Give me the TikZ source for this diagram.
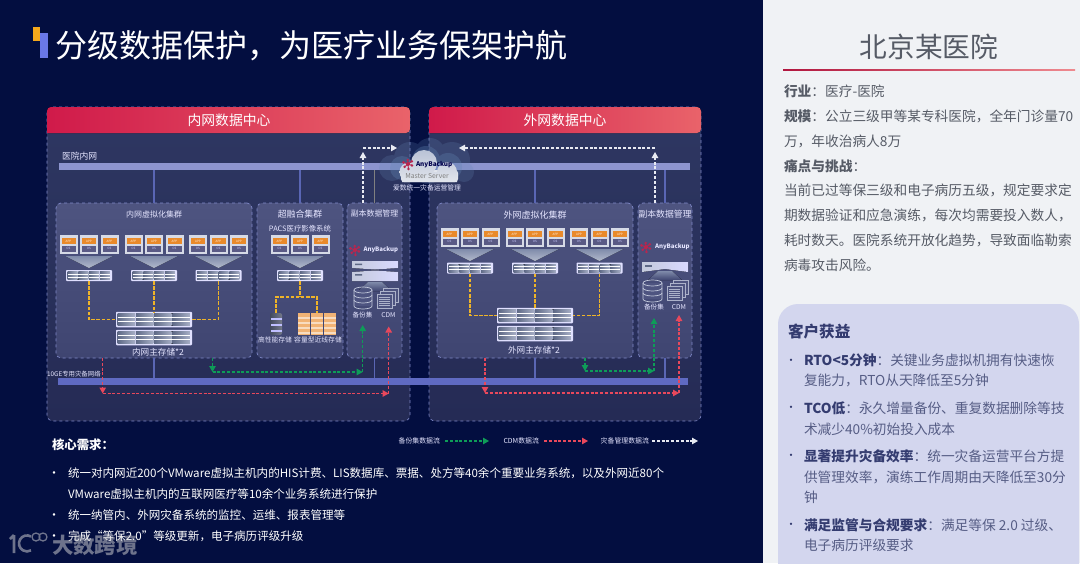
\documentclass[tikz,border=0pt]{standalone}
\usepackage{fontspec}
\setmainfont{Noto Sans CJK SC}
\usetikzlibrary{positioning, arrows.meta}

\definecolor{pagebg}{HTML}{030E40}
\definecolor{panelbg}{HTML}{F0F2F5}
\definecolor{dcline}{HTML}{7F88C8}
\definecolor{dctop}{HTML}{2E3762}
\definecolor{dcbottom}{HTML}{252B55}
\definecolor{cltop}{HTML}{4E5480}
\definecolor{clbottom}{HTML}{3F4571}
\definecolor{dcleft}{HTML}{D01A4A}
\definecolor{dcmid}{HTML}{DC3355}
\definecolor{dcright}{HTML}{E9636A}
\definecolor{lanblue}{HTML}{8D95CF}
\definecolor{bakblue}{HTML}{5F6AC2}
\definecolor{linkblue}{HTML}{5A66B4}
\definecolor{markyellow}{HTML}{F5A81C}
\definecolor{markblue}{HTML}{6A78E8}
\definecolor{sanyellow}{HTML}{EFB428}
\definecolor{flowgreen}{HTML}{0E9C58}
\definecolor{flowred}{HTML}{E8485C}
\definecolor{flowwhite}{HTML}{E8EAF2}
\definecolor{appblock}{HTML}{E98A2B}
\definecolor{osblock}{HTML}{5A5A85}
\definecolor{tileframe}{HTML}{D6DAE6}
\definecolor{funnelgrey}{HTML}{7F8BAA}
\definecolor{srvdark}{HTML}{5E6986}
\definecolor{srvlight}{HTML}{A7AFC6}
\definecolor{iconline}{HTML}{C4CADC}
\definecolor{iconfill}{HTML}{4E5480}
\definecolor{abred}{HTML}{B8264F}
\definecolor{cloudhalo}{HTML}{6486B4}
\definecolor{cloudtop}{HTML}{B9C3D6}
\definecolor{cloudbase}{HTML}{E2E5EC}
\definecolor{gaincard}{HTML}{D3D6EE}
\definecolor{gainhead}{HTML}{343C70}
\definecolor{gaintext}{HTML}{565D85}
\definecolor{bodytext}{HTML}{565B66}

\newcommand{\fs}[1]{\fontsize{#1}{#1}\selectfont}

% three guest tiles with their funnel below
\newcommand{\vmgroup}[3]{%
  \fill[top color=funnelgrey, bottom color=funnelgrey!60!white] ({#2-24},{#3+21}) -- ({#2+24},{#3+21}) -- (#2,{#3+33}) -- cycle;
  \foreach \i/\d in {1/-20.5, 2/0, 3/20.5} {
    \node[tilebox] (tile#1\i) at ({#2+\d},{#3+9.5}) {};
    \node[appbox] (app#1\i) at ([yshift=3.4pt]tile#1\i.center) {APP};
    \node[osbox] (os#1\i) at ([yshift=-4pt]tile#1\i.center) {OS};
  }
}
% server shelf: name, centre x, centre y, width, height
\newcommand{\srvrow}[5]{%
  \node[srvbox, minimum width=#4pt, minimum height=#5pt] (#1) at (#2,#3) {};
  \foreach \c in {0,1,2,3} {
    \fill[left color=srvdark, right color=srvlight] ({#2-#4/2+1.5+\c*(#4-3)/4},{#3-#5/2+1.5}) rectangle ({#2-#4/2+1.5+(\c+1)*(#4-3)/4-0.6},{#3+#5/2-1.5});
    \foreach \r in {1,2} \draw[white, line width=0.4pt] ({#2-#4/2+1.5+\c*(#4-3)/4},{#3-#5/2+1.5+\r*(#5-3)/3}) -- ({#2-#4/2+1.5+(\c+1)*(#4-3)/4-0.6},{#3-#5/2+1.5+\r*(#5-3)/3});
  }
}
% logo mark
\newcommand{\abmark}[2]{%
  \foreach \a/\r in {20/4.2, 85/5, 140/4.4, 200/4.8, 265/4, 325/4.6} {
    \draw[abred, line width=0.9pt] (#1,#2) -- ++(\a:\r);
    \fill[abred] (#1,#2) ++(\a:\r) circle (1.4);
  }
  \fill[abred] (#1,#2) circle (2);
}
\newcommand{\dbstack}[3]{%
  \fill[iconfill] (#1,{#2+3}) rectangle ({#1+#3},{#2+19});
  \draw[iconline, line width=0.7pt] ({#1+#3/2},{#2+3}) ellipse [x radius=#3/2, y radius=3];
  \draw[iconline, line width=0.7pt] (#1,{#2+3}) -- (#1,{#2+19}) arc [start angle=180, end angle=0, x radius=#3/2, y radius=3] -- ({#1+#3},{#2+3});
  \foreach \o in {8,13} \draw[iconline, line width=0.7pt] (#1,{#2+\o}) arc [start angle=180, end angle=0, x radius=#3/2, y radius=3];
}
\newcommand{\docstack}[2]{%
  \foreach \o in {6,3,0} {
    \fill[iconfill] ({#1+\o},{#2+6-\o}) rectangle ({#1+\o+15},{#2+20-\o});
    \draw[iconline!80!iconfill, line width=0.4pt] ({#1+\o},{#2+6-\o}) rectangle ({#1+\o+15},{#2+20-\o});
  }
  \foreach \o in {9,11,13,15,17} \draw[iconline!80!iconfill, line width=0.4pt] ({#1+2},{#2+\o}) -- ({#1+13},{#2+\o});
}

\begin{document}
\begin{tikzpicture}[
    x=1pt, y=-1pt,
    every node/.style={inner sep=0pt, outer sep=0pt},
    dcbox/.style={rectangle, draw=dcline, dashed, line width=0.6pt, rounded corners=6pt, anchor=north west, top color=dctop, bottom color=dcbottom},
    clusterbox/.style={rectangle, draw=dcline, dashed, line width=0.7pt, rounded corners=5pt, anchor=north west, top color=cltop, bottom color=clbottom},
    dchead/.style={left color=dcleft, middle color=dcmid, right color=dcright},
    barnode/.style={rectangle, anchor=north west, minimum height=7pt},
    tilebox/.style={rectangle, fill=tileframe, minimum width=18pt, minimum height=19pt},
    appbox/.style={rectangle, fill=appblock, minimum width=14pt, minimum height=6pt, font=\fs{3}, text=white!85!orange},
    osbox/.style={rectangle, fill=osblock, minimum width=14pt, minimum height=6pt, font=\fs{3}, text=white!80!blue},
    srvbox/.style={rectangle, fill=white!88!blue, rounded corners=0.8pt},
    netlink/.style={draw=linkblue, line width=1.1pt},
    sanlink/.style={draw=sanyellow, line width=1.5pt, dash pattern=on 3.6pt off 1.5pt},
    flowgreenline/.style={draw=flowgreen, line width=1.15pt, dash pattern=on 3pt off 1.8pt},
    flowredline/.style={draw=flowred, line width=1.15pt, dash pattern=on 3pt off 1.8pt},
    flowwhiteline/.style={draw=flowwhite, line width=1.15pt, dash pattern=on 3pt off 1.8pt},
    tip/.style={-{Stealth[length=6pt, width=6.5pt, inset=0pt]}},
    lab/.style={text=white!90!blue},
    panel/.style={anchor=base west, text=bodytext},
    gain/.style={anchor=base west, text=gaintext, font=\fs{13.7}},
    bigtext/.style={anchor=west, text=white, font=\fs{11.55}}
]
    \useasboundingbox (0,0) rectangle (1080,563);
    \fill[pagebg] (0,0) rectangle (763,563);
    \fill[panelbg] (763,0) rectangle (1080,563);

    % heading
    \fill[markblue] (40,33) rectangle (48,58);
    \fill[markyellow] (33,27) rectangle (40,41);
    \node[anchor=west, text=white, font=\fs{32}] (pagetitle) at (56,46) {分级数据保护，为医疗业务保架护航};

    % data centres
    \node[dcbox, minimum width=363pt, minimum height=314pt] (dcint) at (47,107) {};
    \node[dcbox, minimum width=272pt, minimum height=314pt] (dcext) at (429,107) {};
    \fill[dchead, rounded corners=4pt] (47,133) -- (47,107) -- (410,107) -- (410,133) [sharp corners] -- cycle;
    \fill[dchead, rounded corners=4pt] (429,133) -- (429,107) -- (701,107) -- (701,133) [sharp corners] -- cycle;
    \node[text=white, font=\fs{13.8}] (dcintlabel) at (229,120.5) {内网数据中心};
    \node[text=white, font=\fs{13.8}] (dcextlabel) at (565,120.5) {外网数据中心};

    % networks
    \node[barnode, fill=lanblue, minimum width=631pt] (lanbar) at (59,163) {};
    \node[barnode, fill=bakblue, minimum width=630pt] (bakbar) at (58,377.5) {};
    \node[lab, anchor=west, font=\fs{8.8}] (lanlabel) at (62,156) {医院内网};
    \node[lab, anchor=west, font=\fs{6.4}] (baklabel) at (47,374) {10GE专用灾备网络};

    % clusters
    \node[clusterbox, minimum width=196pt, minimum height=155pt] (vmint) at (56,203) {};
    \node[clusterbox, minimum width=86pt, minimum height=155pt] (hci) at (257,203) {};
    \node[clusterbox, minimum width=55pt, minimum height=155pt] (repint) at (347,203) {};
    \node[clusterbox, minimum width=196pt, minimum height=155pt] (vmext) at (437,203) {};
    \node[clusterbox, minimum width=54pt, minimum height=155pt] (repext) at (638,203) {};

    \node[lab, font=\fs{8}] (vmintlabel) at (154,214) {内网虚拟化集群};
    \node[lab, font=\fs{8.9}] (hcilabel) at (300,214) {超融合集群};
    \node[lab, font=\fs{7.4}] (pacslabel) at (300,229) {PACS医疗影像系统};
    \node[lab, font=\fs{7.9}] (repintlabel) at (374.5,213) {副本数据管理};
    \node[lab, font=\fs{9}] (vmextlabel) at (535,215) {外网虚拟化集群};
    \node[lab, font=\fs{8.8}] (repextlabel) at (665,214) {副本数据管理};

    \draw[netlink] (lanbar.south -| vmint.north) -- (vmint.north);
    \draw[netlink] (lanbar.south -| hci.north) -- (hci.north);
    \draw[netlink, draw=gray] (lanbar.south -| repint.north) -- (repint.north);
    \draw[netlink] (lanbar.south -| vmext.north) -- (vmext.north);
    \draw[netlink] (lanbar.south -| repext.north) -- (repext.north);
    \draw[netlink] (vmint.south) -- (bakbar.north -| vmint.south);
    \draw[netlink] (repint.south) -- (bakbar.north -| repint.south);
    \draw[netlink] (vmext.south) -- (bakbar.north -| vmext.south);
    \draw[netlink] (repext.south) -- (bakbar.north -| repext.south);

    % guests and shelves
    \vmgroup{a}{89}{235}
    \vmgroup{b}{154}{235}
    \vmgroup{c}{218.5}{235}
    \vmgroup{d}{300}{235}
    \vmgroup{e}{470}{228}
    \vmgroup{f}{535}{228}
    \vmgroup{g}{599.5}{228}

    \srvrow{srva}{89}{275.5}{46}{11}
    \srvrow{srvb}{154}{275.5}{46}{11}
    \srvrow{srvc}{218.5}{275.5}{46}{11}
    \srvrow{srvd}{300}{275.5}{46}{11}
    \srvrow{srve}{470}{268}{46}{11}
    \srvrow{srvf}{535}{268}{46}{11}
    \srvrow{srvg}{599.5}{268}{46}{11}

    \srvrow{storinta}{154}{319.5}{76}{15.5}
    \srvrow{storintb}{154}{337.5}{76}{15.5}
    \srvrow{storexta}{535}{315.5}{76}{15.5}
    \srvrow{storextb}{535}{333.5}{76}{15.5}
    \node[lab, font=\fs{8.6}] (storintlabel) at (158,352) {内网主存储*2};
    \node[lab, font=\fs{8.6}] (storextlabel) at (534,350) {外网主存储*2};

    \draw[sanlink] (srva.south) |- (storinta.west);
    \draw[sanlink] (srvb.south) -- (storinta.north);
    \draw[sanlink] (srvc.south) |- (storinta.east);
    \draw[sanlink] (srve.south) |- (storexta.west);
    \draw[sanlink] (srvf.south) -- (storexta.north);
    \draw[sanlink] (srvg.south) |- (storexta.east);

    % hyper-converged storage
    \coordinate (hcisplit) at (300,297);
    \node[rectangle, rounded corners=2pt, left color=srvdark!70!black, right color=srvlight!70!black, minimum width=12pt, minimum height=22pt] (hpdrum) at (276,324) {};
    \foreach \y in {318,324,330} \fill[white!75!blue] (270.5,\y) rectangle (281.5,{\y+1.5});
    \node[rectangle, fill=appblock!65!white, minimum width=38pt, minimum height=22pt] (capbins) at (317,324) {};
    \foreach \y in {317,322,327,332} \fill[appblock!30!white] (298,\y) rectangle (336,{\y+1.5});
    \foreach \x in {310.5,323.5} \draw[clbottom, line width=0.8pt] (\x,313) -- (\x,335);
    \draw[sanlink] (srvd.south) -- (hcisplit);
    \draw[sanlink] (hpdrum.north) |- (hcisplit) -| (capbins.north);
    \node[lab, font=\fs{6.8}] (hplabel) at (275,340) {高性能存储};
    \node[lab, font=\fs{6.8}] (caplabel) at (318,340) {容量型近线存储};

    % replica panels
    \abmark{355}{250}
    \node[lab, anchor=west, font=\fs{6.1}\bfseries] (abint) at (363.5,250) {AnyBackup};
    \abmark{646}{247}
    \node[lab, anchor=west, font=\fs{6.1}\bfseries] (abext) at (655,247) {AnyBackup};

    \fill[left color=iconline, right color=white!85!blue] (352,261) -- (398,261) -- (398,268) -- (375,269.5) -- (352,268) -- cycle;
    \fill[left color=iconline, right color=white!85!blue] (352,272) -- (375,270.5) -- (398,272) -- (398,281) -- (352,281) -- cycle;
    \fill[srvdark] (355,263.5) rectangle (362,265) (355,274) rectangle (362,275.5);
    \fill[top color=funnelgrey, bottom color=clbottom] (368,282) -- (382,282) -- (392,291) -- (358,291) -- cycle;
    \dbstack{354}{287}{18}
    \docstack{377}{288}
    \node[lab, font=\fs{6.6}] (bakintlabel) at (362.5,315) {备份集};
    \node[lab, font=\fs{6.6}] (cdmintlabel) at (388.5,315) {CDM};

    \fill[left color=iconline, right color=white!85!blue] (642,262) -- (688,262) -- (688,272) -- (665,269) -- (642,272) -- cycle;
    \fill[srvdark] (645,265) rectangle (652,266.5);
    \fill[top color=funnelgrey, bottom color=clbottom] (658,271) -- (672,271) -- (682,280) -- (648,280) -- cycle;
    \dbstack{643}{280}{19}
    \docstack{667}{280}
    \node[lab, font=\fs{6.6}] (bakextlabel) at (654,307) {备份集};
    \node[lab, font=\fs{6.6}] (cdmextlabel) at (679,307) {CDM};

    % cloud
    \fill[cloudhalo, opacity=0.22] (392,168) circle (13) (410,158) circle (16) (430,153) circle (15) (452,160) circle (18) (464,172) circle (10) (428,170) circle (14);
    \fill[cloudhalo, opacity=0.3] (402,168) circle (12) (426,160) circle (14) (448,167) circle (14);
    \fill[cloudbase, rounded corners=3pt] (401,170) rectangle (458,182);
    \shade[top color=cloudtop, bottom color=cloudbase] (424,163) circle (13) (409,172) circle (9.5) (447,172) circle (10) (402,172) -- (457,172) -- (457,182) -- (402,182) -- cycle;
    \coordinate (cloudin) at (397,148);
    \coordinate (cloudout) at (459,148);
    \abmark{408}{164}
    \node[anchor=west, text=black!70!blue, font=\fs{6.4}\bfseries] (abcloud) at (416,164.5) {AnyBackup};
    \node[text=gray, font=\fs{6.8}] (masterlabel) at (427,176) {Master Server};
    \node[lab, font=\fs{6.8}] (cloudlabel) at (427,188) {爱数统一灾备运营管理};

    % data flows
    \coordinate (intup) at (363,152);
    \coordinate (intturn) at (363,148);
    \coordinate (extup) at (655,152);
    \coordinate (extturn) at (655,148);
    \draw[flowwhiteline, tip] (repint.north -| intup) -- (intup);
    \draw[flowwhiteline, tip] (intturn) -- (cloudin);
    \draw[flowwhiteline, tip] (repext.north -| extup) -- (extup);
    \draw[flowwhiteline, tip] (extturn) -- (cloudout);

    \coordinate (gintdown) at (212.5,372);
    \coordinate (gintturn) at (362.7,372);
    \coordinate (ginttop) at (362.7,325);
    \draw[flowgreenline, tip] (vmint.south -| gintdown) -- (gintdown);
    \draw[flowgreenline, tip] (gintdown) -- (gintturn);
    \draw[flowgreenline, tip] (gintturn) -- (ginttop);
    \coordinate (rintdown) at (102.7,393.5);
    \coordinate (rintturn) at (388.7,393.5);
    \coordinate (rinttop) at (388.7,326.5);
    \draw[flowredline, tip] (vmint.south -| rintdown) -- (rintdown);
    \draw[flowredline, tip] (rintdown) -- (rintturn);
    \draw[flowredline, tip] (rintturn) -- (rinttop);

    \coordinate (gextdown) at (585,371);
    \coordinate (gextturn) at (654,371);
    \coordinate (gexttop) at (654,318);
    \draw[flowgreenline, tip] (vmext.south -| gextdown) -- (gextdown);
    \draw[flowgreenline, tip] (gextdown) -- (gextturn);
    \draw[flowgreenline, tip] (gextturn) -- (gexttop);
    \coordinate (rextdown) at (485,393);
    \coordinate (rextturn) at (679,393);
    \coordinate (rexttop) at (679,315);
    \draw[flowredline, tip] (vmext.south -| rextdown) -- (rextdown);
    \draw[flowredline, tip] (rextdown) -- (rextturn);
    \draw[flowredline, tip] (rextturn) -- (rexttop);

    % legend
    \node[lab, anchor=east, font=\fs{6.9}] (legbak) at (440,441) {备份集数据流};
    \node[lab, anchor=east, font=\fs{6.9}] (legcdm) at (539,441) {CDM数据流};
    \node[lab, anchor=east, font=\fs{6.9}] (legmgr) at (649,441) {灾备管理数据流};
    \coordinate (legbakend) at (489,441);
    \coordinate (legcdmend) at (588,441);
    \coordinate (legmgrend) at (698,441);
    \draw[flowgreenline, tip] ([xshift=5pt]legbak.east) -- (legbakend);
    \draw[flowredline, tip] ([xshift=5pt]legcdm.east) -- (legcdmend);
    \draw[flowwhiteline, tip] ([xshift=3pt]legmgr.east) -- (legmgrend);

    % needs
    \node[anchor=west, text=white, font=\fs{12.4}\bfseries] (needhead) at (52,445) {核心需求：};
    \foreach \n/\y in {a/475, b/517, c/538} \node[text=white, font=\fs{12}] (dot\n) at (54,\y) {•};
    \node[bigtext] (needa) at (68,473.5) {统一对内网近200个VMware虚拟主机内的HIS计费、LIS数据库、票据、处方等40余个重要业务系统，以及外网近80个};
    \node[bigtext] (needb) at (68,494) {VMware虚拟主机内的互联网医疗等10余个业务系统进行保护};
    \node[bigtext] (needc) at (68,515) {统一纳管内、外网灾备系统的监控、运维、报表管理等};
    \node[bigtext] (needd) at (68,536) {完成“等保2.0”等级更新，电子病历评级升级};

    % watermark
    \begin{scope}[opacity=0.5, draw=white!85!black, line width=2.6pt]
        \draw (14,535) -- (14,553) (10,539) -- (14,535);
        \draw (31,536.5) arc [start angle=300, end angle=60, radius=8];
        \draw[line width=1.3pt] (36,537) circle (4) (43,537) circle (4);
    \end{scope}
    \node[anchor=west, text=white!85!black, opacity=0.5, font=\fs{21.5}\bfseries] (markname) at (52,545) {大数跨境};

    % right panel
    \node[text=bodytext, font=\fs{27.7}] (hospital) at (929,47) {北京某医院};
    \coordinate (rulea) at (783,69);
    \coordinate (ruleb) at (1075,69);
    \shade[left color=dcleft!85!black, right color=dcright!75!white] (rulea) rectangle ([yshift=-1pt]ruleb);
    \node[panel, font=\fs{13.7}] (pa) at (784,96.5) {\textbf{行业}：医疗-医院};
    \node[panel, font=\fs{13.7}] (pb) at (784,121) {\textbf{规模}：公立三级甲等某专科医院，全年门诊量70};
    \node[panel, font=\fs{13.7}] (pc) at (784,146) {万，年收治病人8万};
    \node[panel, font=\fs{13.7}] (pd) at (784,171) {\textbf{痛点与挑战}：};
    \node[panel, font=\fs{13.7}] (pe) at (784,195) {当前已过等保三级和电子病历五级，规定要求定};
    \node[panel, font=\fs{13.7}] (pf) at (784,220) {期数据验证和应急演练，每次均需要投入数人，};
    \node[panel, font=\fs{13.7}] (pg) at (784,245) {耗时数天。医院系统开放化趋势，导致面临勒索};
    \node[panel, font=\fs{13.7}] (ph) at (784,270) {病毒攻击风险。};

    % benefits
    \node[rectangle, fill=gaincard, rounded corners=20pt, anchor=north west, minimum width=301pt, minimum height=280pt] (gaincard) at (778,304) {};
    \node[anchor=west, text=gainhead, font=\fs{15.6}\bfseries] (gainhead) at (788,332) {客户获益};
    \foreach \n/\y in {a/362, b/409, c/457, d/526} \node[text=gainhead, font=\fs{11}] (mark\n) at (791,\y) {•};
    \node[gain] (ga) at (804,365.5) {\textcolor{gainhead}{\textbf{RTO<5分钟}}：关键业务虚拟机拥有快速恢};
    \node[gain] (gb) at (804,385.5) {复能力，RTO从天降低至5分钟};
    \node[gain] (gc) at (804,413) {\textcolor{gainhead}{\textbf{TCO低}}：永久增量备份、重复数据删除等技};
    \node[gain] (gd) at (804,434) {术减少40\%初始投入成本};
    \node[gain] (ge) at (804,461) {\textcolor{gainhead}{\textbf{显著提升灾备效率}}：统一灾备运营平台方提};
    \node[gain] (gf) at (804,482) {供管理效率，演练工作周期由天降低至30分};
    \node[gain] (gg) at (804,502) {钟};
    \node[gain] (gh) at (804,530) {\textcolor{gainhead}{\textbf{满足监管与合规要求}}：满足等保 2.0 过级、};
    \node[gain] (gi) at (804,550) {电子病历评级要求};
\end{tikzpicture}
\end{document}
